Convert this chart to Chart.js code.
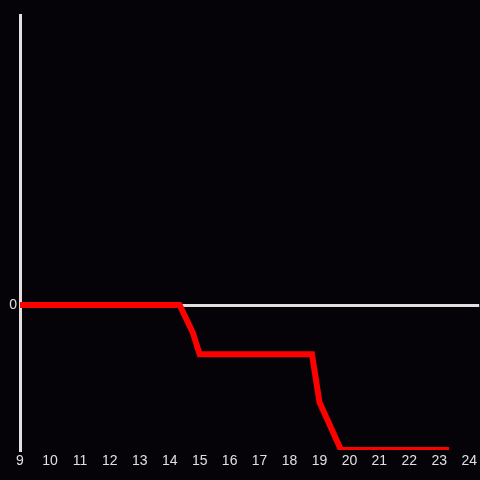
<!DOCTYPE html>
<html>
<head>
<meta charset="utf-8">
<script src="https://cdn.jsdelivr.net/npm/chart.js@4"></script>
<style>
  html, body { margin: 0; padding: 0; background: #050307; }
  #wrap { width: 480px; height: 480px; }
</style>
</head>
<body>
<div id="wrap"><canvas id="c"></canvas></div>
<script>
// hours of day and the level drop
const hours = [9, 14.33, 14.77, 15, 18.75, 19, 19.72, 23.33];
const level = [0, 0, -0.19, -0.34, -0.34, -0.67, -1, -1];
const xTicks = [9, 10, 11, 12, 13, 14, 15, 16, 17, 18, 19, 20, 21, 22, 23, 24];
const yTicks = [0];

const axisColor = '#e0e0e0';
const tickFont = { family: '"Liberation Sans", Arial, sans-serif', size: 14 };

new Chart(document.getElementById('c'), {
    type: 'line',
    data: {
        datasets: [{
            data: hours.map((h, i) => ({ x: h, y: level[i] })),
            borderColor: '#ff0000',
            borderWidth: 6,
            pointRadius: 0,
            tension: 0,
            fill: false
        }]
    },
    options: {
        responsive: true,
        maintainAspectRatio: false,
        animation: false,
        layout: { padding: { top: 15, right: 0, left: 0, bottom: 0 } },
        plugins: { legend: { display: false }, tooltip: { enabled: false } },
        scales: {
            x: {
                type: 'linear',
                min: 9,
                max: 24 + 1 / 3,
                afterBuildTicks: s => { s.ticks = xTicks.map(v => ({ value: v })); },
                afterFit: s => { s.height = 30; },
                grid: { display: false, drawTicks: false },
                border: { display: false },
                ticks: { color: axisColor, font: tickFont, padding: 3, maxRotation: 0, autoSkip: false }
            },
            y: {
                min: -1,
                max: 2,
                afterBuildTicks: s => { s.ticks = yTicks.map(v => ({ value: v })); },
                afterFit: s => { s.width = 20; },
                grid: { color: axisColor, lineWidth: 3, drawTicks: false },
                border: { display: true, color: axisColor, width: 3 },
                ticks: { color: axisColor, font: tickFont, padding: 3 }
            }
        }
    }
});
</script>
</body>
</html>
